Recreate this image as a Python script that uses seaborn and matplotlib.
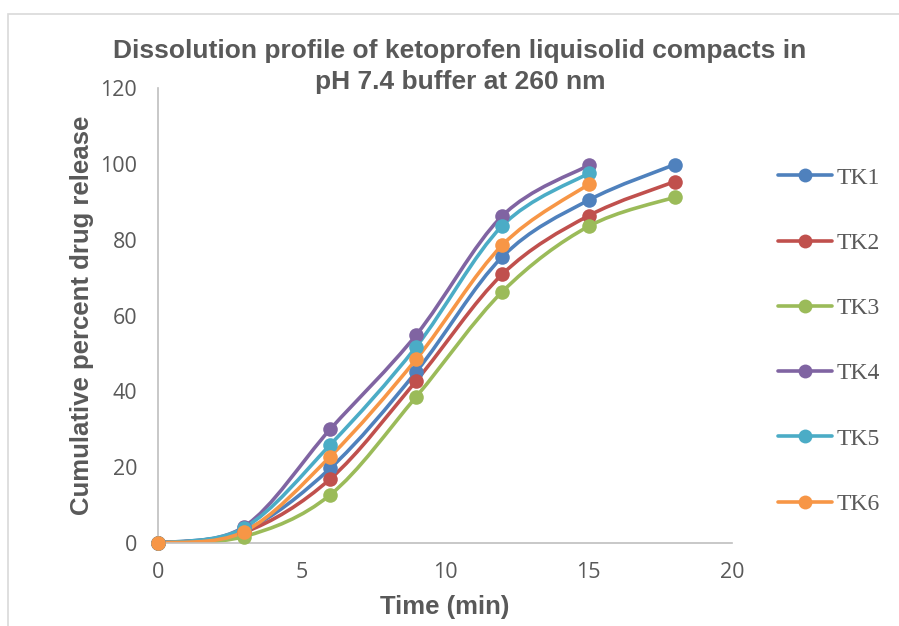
import numpy as np
import pandas as pd
import matplotlib
matplotlib.use('Agg')
import matplotlib.pyplot as plt
import seaborn as sns
from matplotlib.path import Path
from matplotlib.patches import PathPatch, Rectangle
from matplotlib.lines import Line2D

# dados
tempo = [0, 3, 6, 9, 12, 15, 18]
tk1 = [0, 3.3, 19.7, 45.2, 75.5, 90.4, 99.8]
tk2 = [0, 2.8, 16.9, 42.8, 70.9, 86.3, 95.3]
tk3 = [0, 1.7, 12.7, 38.6, 66.3, 83.5, 91.2]
tk4 = [0, 4.3, 30.0, 54.9, 86.3, 99.6]
tk5 = [0, 4.0, 25.9, 51.8, 83.7, 97.5]
tk6 = [0, 3.0, 22.8, 48.5, 78.6, 94.6]
nomes = ['TK1', 'TK2', 'TK3', 'TK4', 'TK5', 'TK6']
cores = ['#4F81BD', '#C0504D', '#9BBB59', '#8064A2', '#4BACC6', '#F79646']
titulo = ['Dissolution profile of ketoprofen liquisolid compacts in',
          'pH 7.4 buffer at 260 nm']

series = [tk1, tk2, tk3, tk4, tk5, tk6]
linhas = []
for nome, valores in zip(nomes, series):
    for t, v in zip(tempo, valores):
        linhas.append({'formulacao': nome, 'tempo': t, 'liberacao': v})
df = pd.DataFrame(linhas)

sns.set_theme(style='white')
cinza = '#595959'
fonte_sans = ['Liberation Sans', 'DejaVu Sans']


def curva_suave(xs, ys):
    """linha suavizada estilo excel (bezier catmull-rom)"""
    pts = np.column_stack([xs, ys]).astype(float)
    n = len(pts)
    verts = [pts[0]]
    codes = [Path.MOVETO]
    for i in range(n - 1):
        p0 = pts[i - 1] if i > 0 else pts[i]
        p1 = pts[i]
        p2 = pts[i + 1]
        p3 = pts[i + 2] if i + 2 < n else pts[i + 1]
        verts += [p1 + (p2 - p0) / 6, p2 - (p3 - p1) / 6, p2]
        codes += [Path.CURVE4] * 3
    return Path(verts, codes)


fig = plt.figure(figsize=(8.99, 6.26), dpi=100)
ax = fig.add_axes([158 / 899, 1 - 543 / 626, (732 - 158) / 899, (543 - 88) / 626])

for nome, cor in zip(nomes, cores):
    d = df[df['formulacao'] == nome]
    ax.add_patch(PathPatch(curva_suave(d['tempo'], d['liberacao']), fill=False,
                           edgecolor=cor, lw=2.6, capstyle='round', zorder=2))
    sns.scatterplot(data=d, x='tempo', y='liberacao', color=cor, s=110,
                    edgecolor=cor, linewidth=0, ax=ax, zorder=3, legend=False)

ax.set_xlim(0, 20)
ax.set_ylim(0, 120)
ax.set_xticks([0, 5, 10, 15, 20])
ax.set_yticks([0, 20, 40, 60, 80, 100, 120])
for lado in ['top', 'right']:
    ax.spines[lado].set_visible(False)
for lado in ['left', 'bottom']:
    ax.spines[lado].set_color('#bfbfbf')
    ax.spines[lado].set_linewidth(1.2)
ax.tick_params(axis='both', length=0, labelsize=15.5, labelcolor=cinza)
ax.tick_params(axis='y', pad=15)
ax.tick_params(axis='x', pad=14)
for lab in ax.get_xticklabels() + ax.get_yticklabels():
    lab.set_family(['Open Sans', 'DejaVu Sans'])
ax.set_xlabel('')
ax.set_ylabel('')
for art in ax.collections:
    art.set_clip_on(False)

fig.text(82 / 899, 1 - 315 / 626, 'Cumulative percent drug release', rotation=90,
         ha='center', va='center', fontsize=18.5, fontweight='bold', color=cinza,
         family=fonte_sans)
fig.text(445 / 899, 1 - 607 / 626, 'Time (min)', ha='center', va='center',
         fontsize=18.5, fontweight='bold', color=cinza, family=fonte_sans)
for linha_y, texto in zip([51, 82], titulo):
    fig.text(460 / 899, 1 - linha_y / 626, texto, ha='center', va='center',
             fontsize=19, fontweight='bold', color=cinza, family=fonte_sans)

handles = [Line2D([], [], color=c, lw=2.6, marker='o', markersize=10,
                  markeredgewidth=0) for c in cores]
leg = ax.legend(handles, nomes, loc='center left',
                bbox_to_anchor=(778 / 899, 1 - 341 / 626),
                bbox_transform=fig.transFigure, frameon=False, borderpad=0,
                borderaxespad=0, handlelength=2.3, handletextpad=0.2,
                labelspacing=1.85, prop={'family': ['Liberation Serif', 'DejaVu Serif'], 'size': 17})
for t in leg.get_texts():
    t.set_color(cinza)

fig.patches.append(Rectangle((8 / 899, -0.1), 1.2, 1.1 - 14 / 626, fill=False,
                             edgecolor='#d9d9d9', lw=1.2, transform=fig.transFigure))

plt.savefig('out.png', dpi=100)
plt.close()
